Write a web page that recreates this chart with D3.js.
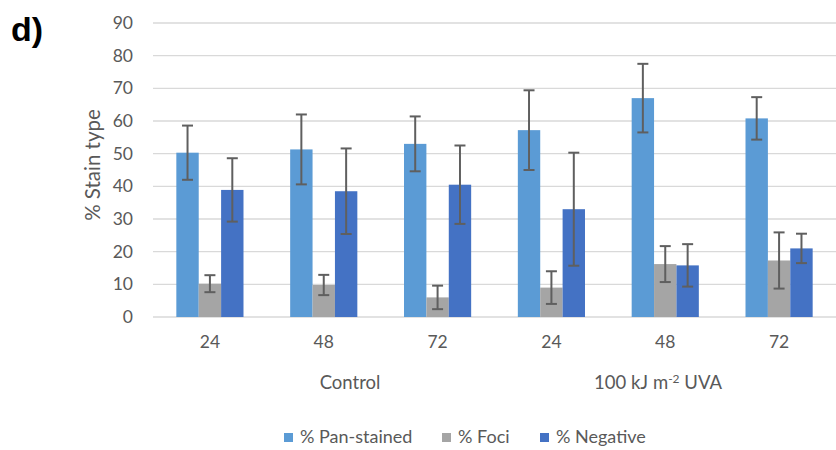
<!DOCTYPE html>
<html>
<head>
<meta charset="utf-8">
<script src="https://cdn.jsdelivr.net/npm/d3@7"></script>
<style>
  html, body { margin: 0; padding: 0; background: #fff; }
  svg { display: block; }
  text { font-family: Lato, "Open Sans", sans-serif; }
</style>
</head>
<body>
<script>
// Time points (h) within each treatment group
const timepoints = ["24", "48", "72", "24", "48", "72"];
const groups = ["Control", "100 kJ m-2 UVA"];
const seriesNames = ["% Pan-stained", "% Foci", "% Negative"];

// Mean percentages per time point
const panStained = [50.3, 51.3, 53.0, 57.2, 67.0, 60.8];
const foci       = [10.2,  9.8,  6.0,  9.0, 16.2, 17.3];
const negative   = [38.9, 38.5, 40.5, 33.0, 15.8, 21.0];

// Error bar half-widths (±)
const panErr     = [8.3, 10.7, 8.4, 12.2, 10.5, 6.5];
const fociErr    = [2.6,  3.1, 3.6,  5.0,  5.5, 8.6];
const negErr     = [9.7, 13.1, 12.0, 17.3, 6.5, 4.5];

const yTicks = [0, 10, 20, 30, 40, 50, 60, 70, 80, 90];
const colors = ["#5B9BD5", "#A5A5A5", "#4472C4"];

const W = 836, H = 450;
const margin = { left: 153, right: 0, top: 23, bottom: 133 };

const svg = d3.select("body").append("svg")
  .attr("width", W).attr("height", H);

const x0 = d3.scaleBand()
  .domain(d3.range(timepoints.length))
  .range([margin.left, W - margin.right])
  .paddingInner(0.41).paddingOuter(0.205);

const x1 = d3.scaleBand()
  .domain(d3.range(seriesNames.length))
  .range([0, x0.bandwidth()]);

const y = d3.scaleLinear()
  .domain([0, 90])
  .range([H - margin.bottom, margin.top]);

// Horizontal gridlines
svg.append("g")
  .selectAll("line")
  .data(yTicks)
  .join("line")
  .attr("x1", margin.left).attr("x2", W - margin.right)
  .attr("y1", d => y(d)).attr("y2", d => y(d))
  .attr("stroke", "#D9D9D9").attr("stroke-width", 1.3);

// Y axis labels
const yAxis = svg.append("g")
  .attr("transform", `translate(${margin.left},0)`)
  .call(d3.axisLeft(y).tickValues(yTicks).tickSize(0).tickPadding(20));
yAxis.select(".domain").remove();
yAxis.selectAll("text")
  .attr("fill", "#595959").style("font-size", "17.5px")
  .style("font-family", "Lato, sans-serif");

// Y axis title
svg.append("text")
  .attr("transform", `translate(100,165) rotate(-90)`)
  .attr("text-anchor", "middle")
  .attr("fill", "#595959")
  .style("font-size", "20.5px")
  .text("% Stain type");

// Bars
const series = [panStained, foci, negative];
const errs = [panErr, fociErr, negErr];

const rows = [];
series.forEach((vals, s) => vals.forEach((v, i) => rows.push({ i, s, v, e: errs[s][i] })));

svg.append("g")
  .selectAll("rect")
  .data(rows)
  .join("rect")
  .attr("x", d => x0(d.i) + x1(d.s))
  .attr("width", x1.bandwidth())
  .attr("y", d => y(d.v))
  .attr("height", d => y(0) - y(d.v))
  .attr("fill", d => colors[d.s]);

// Error bars
const eb = svg.append("g")
  .attr("stroke", "#5F5F5F").attr("stroke-width", 2);
const cx = d => x0(d.i) + x1(d.s) + x1.bandwidth() / 2;
const cap = 5.5;
eb.selectAll("line.v").data(rows).join("line").attr("class", "v")
  .attr("x1", cx).attr("x2", cx)
  .attr("y1", d => y(d.v + d.e)).attr("y2", d => y(d.v - d.e));
eb.selectAll("line.t").data(rows).join("line").attr("class", "t")
  .attr("x1", d => cx(d) - cap).attr("x2", d => cx(d) + cap)
  .attr("y1", d => y(d.v + d.e)).attr("y2", d => y(d.v + d.e));
eb.selectAll("line.b").data(rows).join("line").attr("class", "b")
  .attr("x1", d => cx(d) - cap).attr("x2", d => cx(d) + cap)
  .attr("y1", d => y(d.v - d.e)).attr("y2", d => y(d.v - d.e));

// Time point labels
svg.append("g")
  .selectAll("text")
  .data(timepoints)
  .join("text")
  .attr("x", (d, i) => x0(i) + x0.bandwidth() / 2)
  .attr("y", 348)
  .attr("text-anchor", "middle")
  .attr("fill", "#595959")
  .style("font-size", "17.5px")
  .text(d => d);

// Treatment group labels
svg.append("text")
  .attr("x", 350).attr("y", 389)
  .attr("text-anchor", "middle")
  .attr("fill", "#595959")
  .style("font-size", "18.5px")
  .text(groups[0]);

const uva = svg.append("text")
  .attr("x", 658).attr("y", 389)
  .attr("text-anchor", "middle")
  .attr("fill", "#595959")
  .style("font-size", "18.5px");
uva.append("tspan").text("100 kJ m");
uva.append("tspan").attr("dy", -6).style("font-size", "12px").text("-2");
uva.append("tspan").attr("dy", 6).text(" UVA");

// Legend
const legendX = [284, 442, 540];
const lg = svg.append("g").selectAll("g")
  .data(seriesNames)
  .join("g")
  .attr("transform", (d, i) => `translate(${legendX[i]},437)`);
lg.append("rect")
  .attr("x", 0).attr("y", -4).attr("width", 9).attr("height", 9)
  .attr("fill", (d, i) => colors[i]);
lg.append("text")
  .attr("x", 16).attr("y", 6)
  .attr("fill", "#595959")
  .style("font-size", "18px")
  .text(d => d);

// Panel letter
svg.append("text")
  .attr("x", 11).attr("y", 41)
  .style("font-family", "Liberation Sans, Arial, sans-serif")
  .style("font-weight", "bold")
  .style("font-size", "34px")
  .attr("fill", "#000")
  .text("d)");
</script>
</body>
</html>
